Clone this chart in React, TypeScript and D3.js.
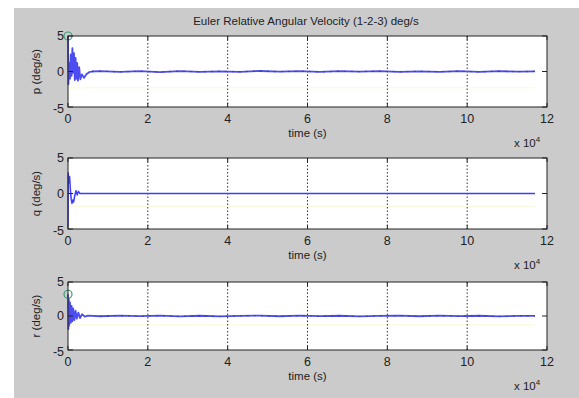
import React from 'react';
import * as d3 from 'd3';

// time in units of 1e4 s
const xTicks = [0, 2, 4, 6, 8, 10, 12];
const yTicks = [-5, 0, 5];

const pTime = [0, 0.01, 0.03, 0.05, 0.07, 0.09, 0.11, 0.13, 0.15, 0.17, 0.19, 0.21, 0.23, 0.25, 0.28, 0.31, 0.35, 0.4, 0.46, 0.53, 0.6,
  0.8, 1.3, 1.8, 2.3, 2.8, 3.3, 3.8, 4.3, 4.8, 5.3, 5.8, 6.3, 6.8, 7.3, 7.8, 8.3, 8.8, 9.3, 9.8, 10.3, 10.8, 11.3, 11.7];
const pValue = [5, -1.8, 1.2, -1.0, 2.4, -0.6, 3.3, -0.2, 2.6, -1.2, 1.9, -1.0, 1.2, -1.3, 0.6, -1.1, -0.4, -0.9, -0.4, -0.1, 0,
  0.05, -0.06, 0.04, -0.08, 0.06, -0.05, 0.03, -0.04, 0.07, -0.03, 0.05, -0.06, 0.04, -0.02, 0.06, -0.05, 0.03, -0.04, 0.05, -0.06, 0.04, -0.03, 0.02];

const qTime = [0, 0.005, 0.02, 0.04, 0.06, 0.08, 0.1, 0.12, 0.14, 0.17, 0.2, 0.23, 0.26, 0.3, 0.35, 11.7];
const qValue = [-4.5, 2.9, 1.5, 2.4, 0.5, -0.8, -1.4, -0.9, -1.2, -0.3, 0.4, -0.2, 0.3, 0, 0, 0];

const rTime = [0, 0.01, 0.02, 0.03, 0.05, 0.07, 0.09, 0.11, 0.13, 0.16, 0.19, 0.22, 0.26, 0.3, 0.35, 0.42, 0.5,
  0.8, 1.3, 1.8, 2.3, 2.8, 3.3, 3.8, 4.3, 4.8, 5.3, 5.8, 6.3, 6.8, 7.3, 7.8, 8.3, 8.8, 9.3, 9.8, 10.3, 10.8, 11.3, 11.7];
const rValue = [3.2, -1.9, 2.6, -1.4, 2.0, -1.0, 1.5, -0.8, 1.1, -0.6, 0.8, -0.4, 0.5, -0.3, 0.25, -0.1, 0.05,
  -0.04, 0.05, -0.03, 0.06, -0.05, 0.04, -0.06, 0.03, 0.05, -0.04, 0.06, -0.03, 0.04, -0.05, 0.03, 0.06, -0.04, 0.05, -0.03, 0.04, -0.05, 0.03, 0.02];

const yellowLevel = [-2.3, -1.8, -1.3];
const yLabels = ['p (deg/s)', 'q (deg/s)', 'r (deg/s)'];
const markerOn = [true, false, true];

const series = [
  { t: pTime, v: pValue },
  { t: qTime, v: qValue },
  { t: rTime, v: rValue },
];

const W = 579;
const H = 398;
const left = 68;
const right = 547;
const panels = [
  { top: 36, bottom: 107 },
  { top: 158, bottom: 229 },
  { top: 282, bottom: 350 },
];
const font = 'Liberation Sans, Arial, sans-serif';

const x = d3.scaleLinear().domain([0, 12]).range([left, right]);

const Panel = ({ idx }: { idx: number }) => {
  const { top, bottom } = panels[idx];
  const y = d3.scaleLinear().domain([-5, 5]).range([bottom, top]);
  const s = series[idx];
  const pts = s.t.map((t, i) => [t, s.v[i]] as [number, number]);
  const line = d3.line<[number, number]>().x(d => x(d[0])).y(d => y(d[1]));
  const tail = pts.filter(d => d[0] >= 0.6);
  return (
    <g>
      <rect x={left} y={top} width={right - left} height={bottom - top} fill="#fff" />
      {/* faint yellow reference */}
      <line x1={x(0)} x2={x(11.7)} y1={y(yellowLevel[idx])} y2={y(yellowLevel[idx])} stroke="#f8f8d8" strokeWidth={1} />
      {/* grid */}
      {xTicks.slice(1, -1).map(t => (
        <line key={t} x1={x(t)} x2={x(t)} y1={top} y2={bottom} stroke="#333" strokeWidth={1} strokeDasharray="1.5,2" />
      ))}
      <path d={line(pts) || ''} fill="none" stroke={idx === 1 ? '#3c3cff' : '#4c4cf0'} strokeWidth={idx === 1 ? 1.5 : 1.8} strokeLinejoin="round" />
      {idx !== 1 && (
        <path d={line(tail) || ''} fill="none" stroke="#333" strokeWidth={1.3} strokeDasharray="2,5" opacity={0.5} />
      )}
      {markerOn[idx] && (
        <circle cx={x(pts[0][0])} cy={y(pts[0][1])} r={4} fill="none" stroke="#3a9a7a" strokeWidth={1.2} />
      )}
      {/* ticks */}
      {xTicks.map(t => (
        <g key={'xt' + t}>
          <line x1={x(t)} x2={x(t)} y1={bottom} y2={bottom - 4} stroke="#222" />
          <line x1={x(t)} x2={x(t)} y1={top} y2={top + 4} stroke="#222" />
          <text x={x(t)} y={bottom + 16} fontSize={12.5} textAnchor="middle" fill="#222" fontFamily={font}>{t}</text>
        </g>
      ))}
      {yTicks.map(t => (
        <g key={'yt' + t}>
          <line x1={left} x2={left + 5} y1={y(t)} y2={y(t)} stroke="#222" />
          <line x1={right} x2={right - 5} y1={y(t)} y2={y(t)} stroke="#222" />
          <text x={left - 4} y={y(t) + 4 + (t === -5 ? 2 : 0)} fontSize={12.5} textAnchor="end" fill="#222" fontFamily={font}>{t}</text>
        </g>
      ))}
      <rect x={left} y={top} width={right - left} height={bottom - top} fill="none" stroke="#222" strokeWidth={1} />
      <text x={(left + right) / 2} y={bottom + 30} fontSize={11.5} textAnchor="middle" fill="#222" fontFamily={font}>time (s)</text>
      <text x={514} y={bottom + 40} fontSize={11.5} fill="#222" fontFamily={font}>
        x 10<tspan dy={-5} fontSize={8}>4</tspan>
      </text>
      <text transform={`translate(${40},${(top + bottom) / 2}) rotate(-90)`} fontSize={11.5} textAnchor="middle" fill="#222" fontFamily={font}>
        {yLabels[idx]}
      </text>
    </g>
  );
};

export default function App() {
  return (
    <svg width={W} height={H} style={{ position: 'fixed', left: 0, top: 0 }}>
      <rect x={0} y={0} width={W} height={H} fill="#fff" />
      <rect x={14} y={8} width={W - 14} height={H - 8} fill="#cbcbcb" />
      <text x={306} y={25} fontSize={11.5} textAnchor="middle" fill="#222" fontFamily={font}>
        Euler Relative Angular Velocity (1-2-3) deg/s
      </text>
      {panels.map((_, i) => <Panel key={i} idx={i} />)}
    </svg>
  );
}
